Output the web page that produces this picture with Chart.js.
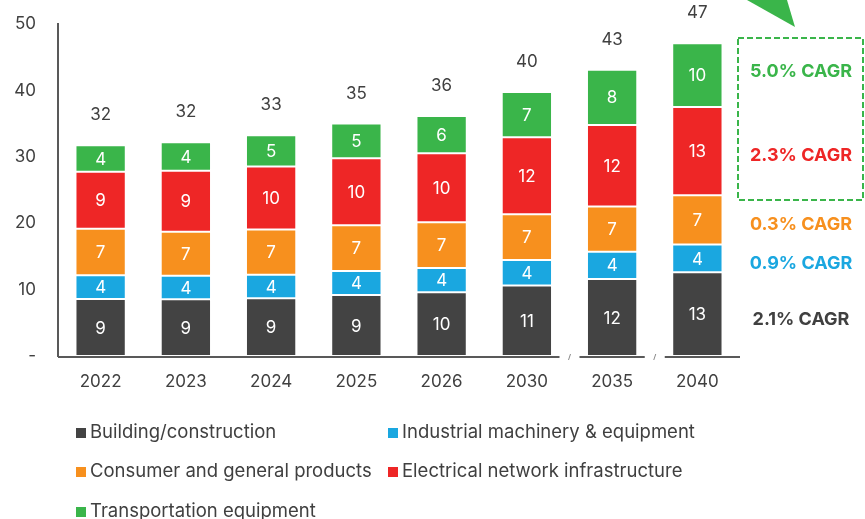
<!DOCTYPE html>
<html>
<head>
<meta charset="utf-8">
<script src="https://cdn.jsdelivr.net/npm/chart.js@4.4.0/dist/chart.umd.min.js"></script>
<style>
  html, body { margin: 0; padding: 0; background: #fff; }
  #wrap { position: relative; width: 865px; height: 519px; overflow: hidden; }
  #chart { position: absolute; left: 0; top: 0; }
  .legend-item { position: absolute; font-family: Inter, "Noto Sans", sans-serif; font-size: 18.5px; color: #404040; white-space: nowrap; line-height: 20px; }
  .legend-item span { display: inline-block; width: 10px; height: 10px; margin-right: 4px; vertical-align: 0px; }
</style>
</head>
<body>
<div id="wrap">
  <canvas id="chart" width="865" height="519"></canvas>
  <div id="legend"></div>
</div>
<script>
// categories and series (units as on the axis)
const years = ['2022', '2023', '2024', '2025', '2026', '2030', '2035', '2040'];
const building     = [8.6, 8.55, 8.7, 9.2, 9.6, 10.6, 11.6, 12.6];
const industrial   = [3.55, 3.55, 3.55, 3.6, 3.65, 3.85, 4.1, 4.2];
const consumer     = [7.0, 6.6, 6.8, 6.9, 6.9, 6.9, 6.8, 7.4];
const electrical   = [8.6, 9.2, 9.5, 10.1, 10.4, 11.6, 12.3, 13.3];
const transport    = [4.0, 4.3, 4.7, 5.2, 5.6, 6.8, 8.3, 9.6];
const seriesNames  = ['Building/construction', 'Industrial machinery & equipment', 'Consumer and general products', 'Electrical network infrastructure', 'Transportation equipment'];
const seriesColors = ['#434343', '#1aa7e0', '#f7901e', '#ee2626', '#3ab54a'];
const cagrLabels   = ['2.1% CAGR', '0.9% CAGR', '0.3% CAGR', '2.3% CAGR', '5.0% CAGR'];
const yTicks       = [0, 10, 20, 30, 40, 50];

const FONT = 'Inter, "Noto Sans", sans-serif';
const TEXT = '#404040';
const PLOT_TOP = 24;

const allSeries = [building, industrial, consumer, electrical, transport];
const totals = years.map((_, i) => allSeries.reduce((s, arr) => s + arr[i], 0));

// y tick labels, segment values, stack totals, axis breaks and CAGR notes
const overlay = {
  id: 'overlay',
  afterDatasetsDraw(chart) {
    const ctx = chart.ctx;
    const ys = chart.scales.y;
    ctx.save();
    ctx.textBaseline = 'middle';
    ctx.font = '17px ' + FONT;

    ctx.textAlign = 'right';
    ctx.fillStyle = TEXT;
    yTicks.forEach(v => {
      ctx.fillText(v === 0 ? '-' : String(v), ys.right - 22, ys.getPixelForValue(v));
    });

    ctx.textAlign = 'center';
    chart.data.datasets.forEach((ds, di) => {
      chart.getDatasetMeta(di).data.forEach((bar, i) => {
        const mid = (bar.y + bar.base) / 2;
        ctx.fillStyle = '#ffffff';
        ctx.fillText(Math.round(ds.data[i]), bar.x, mid + 1);
      });
    });
    ctx.fillStyle = TEXT;
    totals.forEach((t, i) => {
      const x = chart.scales.x.getPixelForValue(i);
      ctx.fillText(Math.round(t), x, ys.getPixelForValue(t) - 30);
    });
    ctx.restore();
  },
  afterDraw(chart) {
    const ctx = chart.ctx;
    const xs = chart.scales.x;
    const area = chart.chartArea;
    const yBase = area.bottom + 1;
    ctx.save();

    // baseline with two break marks between the later years
    const breaks = [5, 6].map(i => (xs.getPixelForValue(i) + xs.getPixelForValue(i + 1)) / 2);
    ctx.strokeStyle = '#595959';
    ctx.lineWidth = 2;
    let start = area.left;
    breaks.forEach(bx => {
      ctx.beginPath(); ctx.moveTo(start, yBase); ctx.lineTo(bx - 10, yBase); ctx.stroke();
      start = bx + 10;
    });
    ctx.beginPath(); ctx.moveTo(start, yBase); ctx.lineTo(area.right, yBase); ctx.stroke();
    ctx.lineWidth = 1;
    ctx.strokeStyle = '#8a8a8a';
    breaks.forEach(bx => {
      ctx.beginPath(); ctx.moveTo(bx - 1, yBase + 3); ctx.lineTo(bx + 1, yBase - 3); ctx.stroke();
    });

    // CAGR notes on the right
    const noteY = [320, 264, 225, 156, 72];
    ctx.font = 'bold 18px ' + FONT;
    ctx.textAlign = 'center';
    ctx.textBaseline = 'middle';
    cagrLabels.forEach((txt, i) => {
      ctx.fillStyle = seriesColors[i] === '#434343' ? TEXT : seriesColors[i];
      ctx.fillText(txt, 801, noteY[i]);
    });

    // dashed box round the two fastest-growing segments
    ctx.setLineDash([6, 3]);
    ctx.strokeStyle = '#3ab54a';
    ctx.lineWidth = 2;
    ctx.strokeRect(738, 38, 125, 162);
    ctx.setLineDash([]);

    // arrow head at the top
    ctx.fillStyle = '#3ab54a';
    ctx.beginPath();
    ctx.moveTo(747, 0);
    ctx.lineTo(787, 0);
    ctx.lineTo(795, 27);
    ctx.closePath();
    ctx.fill();
    ctx.restore();
  }
};

const chart = new Chart(document.getElementById('chart'), {
  type: 'bar',
  data: {
    labels: years,
    datasets: allSeries.map((arr, i) => ({
      label: seriesNames[i],
      data: arr,
      backgroundColor: seriesColors[i],
      borderColor: 'rgba(255,255,255,0.55)',
      borderWidth: 1,
      borderSkipped: false,
      categoryPercentage: 1,
      barPercentage: 0.59
    }))
  },
  options: {
    responsive: false,
    devicePixelRatio: 1,
    animation: false,
    layout: { autoPadding: false, padding: { top: PLOT_TOP, right: 125, left: 0, bottom: 123 } },
    plugins: { legend: { display: false }, tooltip: { enabled: false } },
    scales: {
      x: {
        stacked: true,
        grid: { display: false, drawTicks: false },
        border: { display: false },
        ticks: { color: TEXT, font: { family: FONT, size: 17 }, padding: 16 },
        afterFit(scale) { scale.height = 40; }
      },
      y: {
        stacked: true,
        min: 0,
        max: 50,
        grid: { display: false, drawTicks: false },
        border: { display: true, color: '#595959', width: 2 },
        ticks: { display: false },
        afterFit(scale) { scale.width = 58; }
      }
    }
  },
  plugins: [overlay]
});

// keep the plot top where it belongs if the layout pushed it down
const shift = chart.chartArea.top - PLOT_TOP;
if (Math.abs(shift) > 0.5) {
  chart.options.layout.padding.top = PLOT_TOP - shift;
  chart.update();
}

// legend in two columns under the axis
const legendPos = [[76, 421], [388, 421], [76, 460], [388, 460], [76, 500]];
const legend = document.getElementById('legend');
seriesNames.forEach((name, i) => {
  const d = document.createElement('div');
  d.className = 'legend-item';
  d.style.left = legendPos[i][0] + 'px';
  d.style.top = legendPos[i][1] + 'px';
  d.innerHTML = '<span style="background:' + seriesColors[i] + '"></span>' + name.replace('&', '&amp;');
  legend.appendChild(d);
});
</script>
</body>
</html>
